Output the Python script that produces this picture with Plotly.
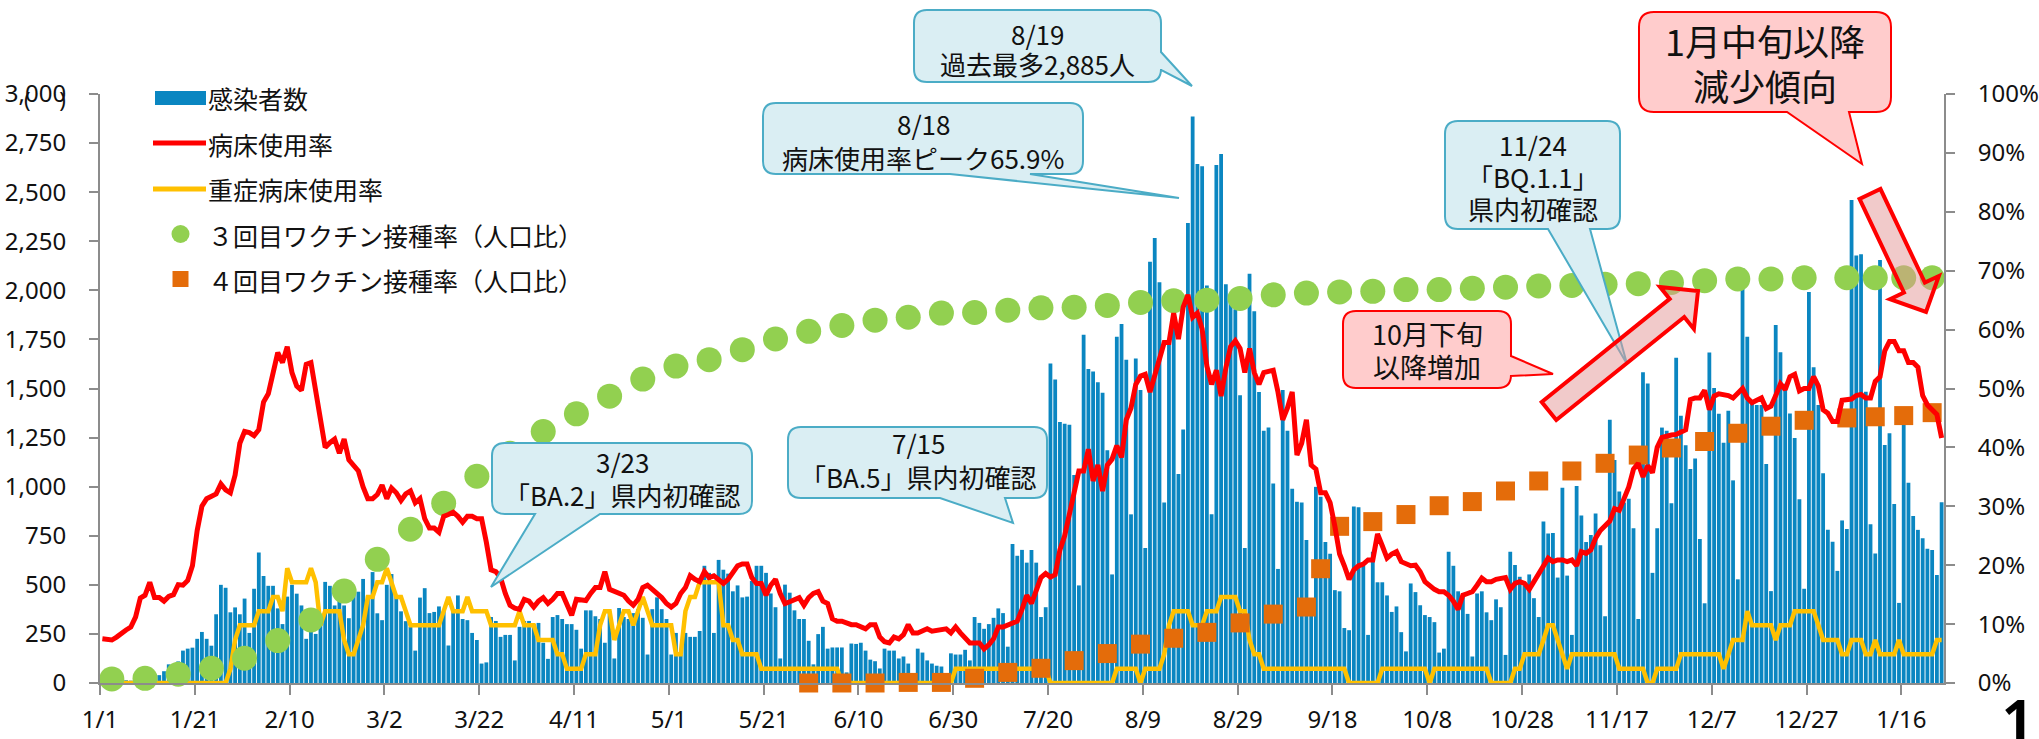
import math
import pandas as pd
import plotly.graph_objects as go

# ---------------- data ----------------
start_date = "2022-01-01"
end_date = "2023-01-24"

cases = [
    4, 3, 6, 8, 10, 14, 12, 20, 26, 30,
    28, 45, 40, 60, 95, 70, 110, 165, 175, 180,
    225, 260, 225, 190, 350, 500, 485, 360, 385, 350,
    430, 255, 480, 665, 545, 495, 495, 380, 300, 440,
    500, 455, 395, 225, 275, 250, 300, 515, 495, 395,
    475, 395, 330, 455, 465, 530, 445, 565, 355, 320,
    500, 555, 445, 365, 315, 285, 165, 435,
    483, 356, 362, 390, 366, 191, 366, 446, 326, 320,
    255, 219, 99, 105, 336, 316, 235, 245, 245, 115,
    286, 316, 316, 300, 306, 205, 123, 336, 346, 326,
    300, 300, 271, 175, 370, 370, 340, 326, 205, 366,
    125, 382, 336, 326, 356, 376, 332, 145, 376, 436,
    376, 326, 145, 255, 145, 255, 235, 235, 265, 597,
    561, 255, 627, 577, 557, 467, 497, 436,
    440, 520, 597, 597, 561, 456, 386, 125, 501, 460,
    370, 326, 326, 215, 95, 249, 286, 175, 181, 181,
    181, 54, 201, 199, 205, 165, 119, 111, 74,
    175, 165, 165, 125, 135, 99, 44, 175, 155, 115,
    99, 88, 84, 34, 151, 145, 145, 169, 115, 336,
    306, 276, 300, 332, 380, 356, 185, 708, 648, 678,
    613, 678, 613, 336, 386, 1627, 1546,
    1330,
    1321, 1315, 1060, 497, 1774, 1599, 1587, 1532, 1478, 1186,
    553, 1764, 1828, 1647, 859, 1653, 1492, 688, 2146, 2266,
    2041, 919, 1744, 1864, 1064, 1291, 2343, 2885, 2644, 2632,
    2025, 859, 2638, 2695, 2031, 1945, 1904, 1466, 688, 2085,
    1894, 1482, 1285, 1301, 1016, 581, 1492, 1285, 989, 923,
    919, 728, 386, 999, 949, 718, 658, 473, 467, 280,
    269, 899, 895, 597, 245, 668, 513, 513, 446, 362, 390,
    259, 161, 507, 463, 396, 346, 336, 310, 155, 175,
    668, 597, 467, 456, 352, 135, 456, 467, 360, 320,
    426, 386, 143, 668, 601, 541, 497, 553, 432, 336,
    822, 762, 764, 537, 995, 547, 245, 1003, 853, 718,
    754, 863, 702, 340, 1341, 1136, 975, 919, 939, 788,
    326, 1583, 1526, 561, 788, 1301, 1285, 915, 1657, 1361,
    1211, 1090, 1144, 734, 406, 1683, 1502, 1371,
    1224, 1387, 1032, 528, 2112, 1764, 1428, 1416, 1416, 1116,
    468, 1824, 1685, 1524, 1373, 1248, 936, 480, 1992, 1608,
    1416, 1068, 780, 720, 571, 828, 785, 2460, 2177, 2184,
    1483, 809, 660, 2155, 1212, 1272, 912, 408,
    1356, 1020, 850, 780, 737, 684, 677, 550, 920,
]

bed_rate = [
    7.5, 7.5, 7.3, 7.8, 8.5, 9.0, 9.5, 11.2, 14.4, 14.9,
    17.1, 14.5, 14.5, 13.9, 14.7, 15.0, 16.7, 16.6, 17.4, 19.9,
    25.9, 30.0, 31.3, 31.6, 32.1, 33.8, 32.8, 32.3, 35.3, 40.7,
    42.7, 42.5, 42.0, 43.0, 47.7, 49.1, 52.4, 56.1, 54.4, 57.1,
    52.7, 50.4, 49.7, 54.1, 54.4, 49.4, 45.0, 40.0, 40.8, 41.4,
    39.0, 41.4, 37.9, 37.0, 36.0, 33.3, 31.3, 31.3, 32.0, 33.6,
    31.3, 33.1, 32.3, 31.0, 32.1, 32.6, 30.6, 31.3,
    27.9, 26.3, 26.3, 25.6, 28.3, 28.6, 29.0, 28.3, 27.3, 28.3,
    28.3, 27.9, 27.9, 23.9, 19.2, 18.9, 17.9, 15.2, 13.2, 12.7,
    12.5, 14.2, 13.9, 12.9, 13.9, 14.5, 13.5, 14.2, 15.2,
    15.2, 13.2, 11.5, 14.2, 14.2, 14.0, 15.2, 16.2, 16.2, 18.9,
    15.9, 15.5, 15.2, 14.9, 13.9, 13.2, 14.2, 16.2, 16.6, 15.9,
    15.2, 14.5, 13.5, 12.9, 13.5, 15.2, 16.2, 18.2, 17.6, 17.2,
    18.9, 17.9, 18.2, 17.6, 16.9, 17.6, 18.6, 19.9, 20.2,
    20.2, 17.9, 16.9, 16.9, 14.9, 16.6, 17.6, 15.2, 13.5, 13.8,
    14.2, 14.5, 13.2, 14.5, 15.2, 15.5, 13.9, 13.5, 10.9, 10.5,
    10.5, 10.2, 9.9, 9.9, 9.5, 9.2, 9.9, 9.9, 7.8, 7.0,
    6.8, 7.8, 7.5, 8.2, 9.9, 8.5, 8.5, 8.8, 9.2, 8.8,
    9.0, 9.0, 9.2, 8.5, 9.5, 8.5, 7.5, 6.8, 6.8, 6.8,
    5.8, 6.5, 7.5, 9.5, 9.5, 9.8, 10.2, 10.5, 12.5, 14.9,
    13.5, 15.5, 17.9, 18.6, 18.0, 18.4, 22.6, 25.0, 29.0,
    32.0, 36.0, 36.0, 39.7, 34.3, 37.0, 32.6, 37.0, 38.0, 40.3,
    38.3, 44.7, 46.7, 50.7, 52.1, 52.4, 49.4, 52.4, 55.4, 57.8,
    57.8, 62.8, 58.4, 63.8, 65.9, 62.1, 62.8, 60.1, 53.8, 50.7,
    53.1, 48.7, 53.5, 57.1, 58.1, 56.8, 52.7, 56.8, 52.7, 50.7,
    52.7, 53.0, 53.1, 49.4, 44.7, 46.7, 49.4, 38.7, 40.7, 44.7,
    37.0, 36.3, 32.3, 32.3, 30.6, 26.6, 21.9, 19.9, 17.6, 19.2,
    19.9, 20.2, 20.9, 20.9, 25.3, 23.3, 21.2, 21.9,
    22.3, 20.6, 20.2, 19.9, 20.0, 18.9, 17.2, 16.5, 15.9, 15.5,
    15.5, 14.9, 13.9, 12.5, 14.9, 15.2, 15.5, 16.6, 17.8, 17.2,
    17.2, 17.6, 17.8, 17.9, 15.9, 16.9, 17.2, 16.9, 15.9, 17.2,
    18.6, 19.6, 21.2, 20.6, 20.9, 20.9, 20.6, 20.9, 19.9, 22.3,
    22.0, 22.6, 24.6, 25.9, 26.6, 27.5, 29.6, 29.3, 31.3, 33.3,
    36.3, 37.3, 35.0, 36.9, 35.7, 40.0, 41.7, 42.0, 42.1, 42.2,
    42.7, 43.0, 48.1, 48.4, 48.4, 49.7, 46.4, 48.7, 49.1,
    49.0, 48.8, 48.4, 49.2, 50.0, 48.4, 47.6, 48.0, 48.4, 46.6,
    47.0, 48.8, 50.8, 49.8, 52.0, 52.4, 49.6, 50.0, 50.0, 52.0,
    50.4, 46.4, 45.8, 44.4, 44.4, 48.0, 48.2, 48.2, 48.8, 49.0,
    48.4, 48.4, 51.2, 52.0, 56.4, 58.0, 58.0, 56.4, 56.4, 54.4,
    54.4, 53.6, 48.8, 47.2, 46.4, 45.6, 41.6,
]

severe_rate = (
    [0.0] * 27
    + [2.4, 7.3, 9.8, 9.8, 9.8, 9.8, 12.2, 12.2, 12.2, 14.6,
       14.6, 12.2, 19.5, 17.1, 17.1, 17.1, 17.1, 19.5, 17.1, 9.8,
       12.2, 12.2, 12.2, 12.2, 7.3, 4.9, 4.9, 7.3, 9.8, 14.6,
       14.6, 17.1, 17.1, 19.5, 17.1, 14.6, 14.6, 12.2, 9.8, 9.8, 9.8]
    + [9.8] * 4
    + [12.2, 14.6, 12.2, 12.2, 12.2, 14.6, 12.2, 12.2, 12.2, 12.2]
    + [9.8] * 6 + [12.2, 9.8, 9.8, 9.8] + [7.3] * 4 + [4.9] * 2 + [2.4] * 4 + [4.9] * 3
    + [9.8, 12.2, 12.2, 7.3, 9.8, 12.2, 12.2, 9.8, 12.2, 14.6, 12.2]
    + [9.8] * 5 + [4.9, 4.9, 12.2, 14.6, 14.6] + [17.1] * 5 + [9.8, 9.8, 7.3, 7.3, 4.9]
    + [4.9] * 3 + [2.4] * 17 + [0.0] * 24 + [2.4] * 20 + [0.0] * 5
    + [0.0] * 9 + [2.4] * 5 + [0.0] + [2.4] * 4 + [4.9, 9.8] + [12.2] * 4 + [9.8] * 3
    + [12.2] * 3 + [14.6] * 4 + [12.2] * 2 + [7.3] + [4.9] * 2 + [2.4] * 18 + [0.0] * 7 + [2.4] * 3
    + [2.4] * 7 + [0.0] + [2.4] * 12 + [0.0] * 5 + [2.4] * 2 + [4.9] * 4 + [7.3] + [9.8] * 2
    + [7.3, 4.9, 2.4] + [4.9] * 10 + [2.4] * 6 + [0.0] * 2 + [2.4] * 5 + [4.9] * 9
    + [2.4, 4.9] + [7.3] * 3 + [12.2] + [9.8] * 5 + [7.3] + [9.8] * 3 + [12.2] * 5 + [9.8]
    + [7.3] * 4 + [4.9] * 2 + [7.3] * 3 + [4.9] * 2 + [7.3] + [4.9] * 4 + [7.3] + [4.9] * 7 + [7.3] * 2
)

vax_weekly_first = "2022-01-03"
vax_weekly_count = 52
vax_extra_dates = ["2023-01-04", "2023-01-10", "2023-01-16", "2023-01-22"]
vax3_rate = [
    0.7, 0.8, 1.5, 2.5, 4.2, 7.2, 10.7, 15.6, 21.0, 26.1,
    30.5, 35.1, 39.0, 42.7, 45.7, 48.7, 51.6, 53.8, 54.9, 56.6,
    58.4, 59.7, 60.7, 61.6, 62.1, 62.8, 62.9, 63.3, 63.7, 63.8,
    64.1, 64.6, 64.9, 65.0, 65.3, 65.9, 66.2, 66.4, 66.5,
    66.8, 66.8, 67.0, 67.2, 67.4, 67.5, 67.7, 67.8, 68.0, 68.3,
    68.6, 68.6, 68.8,
    68.8, 68.8, 68.8, 68.8,
]
vax4_weekly_first = "2022-05-30"
vax4_weekly_count = 31
vax4_mid_dates = ["2022-09-15"]
vax4_rate = [
    0.0, 0.0, 0.0, 0.1, 0.1, 0.8, 1.8, 2.5, 3.8, 5.0,
    6.6, 7.6, 8.6, 10.2, 11.7, 12.9, 19.4, 26.6, 27.4, 28.6,
    30.1, 30.8, 32.6, 34.3, 36.0, 37.3, 38.7, 39.9, 41.0, 42.4,
    43.6, 44.6, 45.0, 45.2, 45.4, 45.9,
]

tick_labels = ["1/1", "1/21", "2/10", "3/2", "3/22", "4/11", "5/1", "5/21", "6/10", "6/30",
               "7/20", "8/9", "8/29", "9/18", "10/8", "10/28", "11/17", "12/7", "12/27", "1/16"]
left_ticks = list(range(0, 3001, 250))
right_ticks = list(range(0, 101, 10))

legend_labels = ["感染者数", "病床使用率", "重症病床使用率",
                 "３回目ワクチン接種率（人口比）", "４回目ワクチン接種率（人口比）"]

# ---------------- build ----------------
days = pd.date_range(start_date, end_date, freq="D")
assert len(cases) == len(days), (len(cases), len(days))
assert len(bed_rate) == len(days), len(bed_rate)
assert len(severe_rate) == len(days), len(severe_rate)
half = pd.Timedelta(hours=12)
xd = days + half

vax_dates = list(pd.date_range(vax_weekly_first, periods=vax_weekly_count, freq="7D")) + \
    [pd.Timestamp(d) for d in vax_extra_dates]
assert len(vax_dates) == len(vax3_rate)
vax4_dates = sorted(list(pd.date_range(vax4_weekly_first, periods=vax4_weekly_count, freq="7D"))
                    + [pd.Timestamp(d) for d in vax4_mid_dates + vax_extra_dates])
assert len(vax4_dates) == len(vax4_rate), (len(vax4_dates), len(vax4_rate))
vx3 = [d + half for d in vax_dates]
vx4 = [d + half for d in vax4_dates]

tickvals = pd.date_range(start_date, periods=len(tick_labels), freq="20D")

W, H = 2039, 739
PL, PR, PT, PB = 100, 1944, 94, 683
PW, PH = PR - PL, PB - PT

BLUE = "#0A86C1"
RED = "#FF0000"
YEL = "#FFC000"
GRN = "#92D050"
ORG = "#E46C0A"
JP = "Noto Sans CJK JP"

fig = go.Figure()
fig.add_trace(go.Bar(x=xd, y=cases, marker=dict(color=BLUE, line=dict(width=0)),
                     name=legend_labels[0], yaxis="y"))
fig.add_trace(go.Scatter(x=xd, y=severe_rate, mode="lines", line=dict(color=YEL, width=4.5),
                         name=legend_labels[2], yaxis="y2"))
fig.add_trace(go.Scatter(x=vx3, y=vax3_rate, mode="markers", cliponaxis=False,
                         marker=dict(color=GRN, size=25, symbol="circle", line=dict(width=0)),
                         name=legend_labels[3], yaxis="y2"))
fig.add_trace(go.Scatter(x=vx4, y=vax4_rate, mode="markers", cliponaxis=False,
                         marker=dict(color=ORG, size=19, symbol="square", line=dict(width=0)),
                         name=legend_labels[4], yaxis="y2"))
fig.add_trace(go.Scatter(x=xd, y=bed_rate, mode="lines", line=dict(color=RED, width=5),
                         name=legend_labels[1], yaxis="y2"))


def pp(x, y):
    return (x - PL) / PW, (PB - y) / PH


def fmt(p):
    a, b = pp(*p)
    return f"{a:.5f},{b:.5f}"


def path_from(cmds):
    s = ""
    for op, pts in cmds:
        s += op + " " + " ".join(fmt(p) for p in pts) + " "
    return s + "Z"


def callout(x0, y0, x1, y1, r, edge, base, tip):
    c = [("M", [(x0 + r, y0)]), ("L", [(x1 - r, y0)]), ("Q", [(x1, y0), (x1, y0 + r)])]
    if edge == "right":
        c += [("L", [(x1, base[0])]), ("L", [tip]), ("L", [(x1, base[1])])]
    c += [("L", [(x1, y1 - r)]), ("Q", [(x1, y1), (x1 - r, y1)])]
    if edge == "bottom":
        c += [("L", [(base[1], y1)]), ("L", [tip]), ("L", [(base[0], y1)])]
    c += [("L", [(x0 + r, y1)]), ("Q", [(x0, y1), (x0, y1 - r)]),
          ("L", [(x0, y0 + r)]), ("Q", [(x0, y0), (x0 + r, y0)])]
    return path_from(c)


def arrow(tail, tip, sw, hw, hl):
    dx, dy = tip[0] - tail[0], tip[1] - tail[1]
    L = math.hypot(dx, dy)
    ux, uy = dx / L, dy / L
    nx, ny = -uy, ux
    hb = (tip[0] - ux * hl, tip[1] - uy * hl)
    pts = [(tail[0] + nx * sw, tail[1] + ny * sw), (hb[0] + nx * sw, hb[1] + ny * sw),
           (hb[0] + nx * hw, hb[1] + ny * hw), tip,
           (hb[0] - nx * hw, hb[1] - ny * hw), (hb[0] - nx * sw, hb[1] - ny * sw),
           (tail[0] - nx * sw, tail[1] - ny * sw)]
    return path_from([("M", [pts[0]])] + [("L", [p]) for p in pts[1:]])


shapes = []
BFILL, BLINE = "#DAEEF3", "#4BACC6"
PFILL, PLINE = "#FFCCCC", "#FF0000"


def add_path(path, fill, line, lw):
    shapes.append(dict(type="path", path=path, xref="paper", yref="paper",
                       fillcolor=fill, line=dict(color=line, width=lw), layer="above"))


add_path(callout(914, 10, 1161, 82, 13, "right", (52, 70), (1192, 86)), BFILL, BLINE, 2)
add_path(callout(763, 103, 1083, 174, 13, "bottom", (950, 1030), (1179, 198)), BFILL, BLINE, 2)
add_path(callout(492, 443, 752, 514, 13, "bottom", (535, 600), (491, 587)), BFILL, BLINE, 2)
add_path(callout(788, 427, 1047, 498, 13, "bottom", (940, 1005), (1013, 523)), BFILL, BLINE, 2)
add_path(callout(1445, 121, 1620, 229, 13, "bottom", (1548, 1590), (1627, 364)), BFILL, BLINE, 2)
add_path(callout(1343, 311, 1511, 388, 13, "right", (356, 376), (1553, 374)), PFILL, PLINE, 2)
add_path(callout(1639, 12, 1891, 112, 15, "bottom", (1787, 1849), (1862, 164)), PFILL, PLINE, 2)

AFILL = "rgba(228,150,150,0.5)"
add_path(arrow((1549, 411), (1698, 291), 11.6, 27, 27), AFILL, PLINE, 4)
add_path(arrow((1870, 194), (1926, 312), 11.6, 27, 27), AFILL, PLINE, 4)


def rect_px(x0, y0, x1, y1, fill, kind="rect"):
    a0, b0 = pp(x0, y0)
    a1, b1 = pp(x1, y1)
    shapes.append(dict(type=kind, xref="paper", yref="paper", x0=a0, x1=a1, y0=b1, y1=b0,
                       fillcolor=fill, line=dict(width=0), layer="above"))


def line_px(x0, x1, y, color, w):
    a0, b = pp(x0, y)
    a1, _ = pp(x1, y)
    shapes.append(dict(type="line", xref="paper", yref="paper", x0=a0, x1=a1, y0=b, y1=b,
                       line=dict(color=color, width=w), layer="above"))


# legend symbols
rect_px(155, 91, 206, 105, BLUE)
line_px(153, 206, 143, RED, 5)
line_px(153, 206, 189, YEL, 5)
rect_px(171.5, 225, 189.5, 243, GRN, "circle")
rect_px(172.5, 271, 188.5, 287, ORG)

annotations = []


def text_px(x, y, s, size, anchor="center", color="#111111", family=JP, bold=False):
    a, b = pp(x, y)
    annotations.append(dict(x=a, y=b, xref="paper", yref="paper", text=(f"<b>{s}</b>" if bold else s),
                            showarrow=False, xanchor=anchor, yanchor="middle",
                            font=dict(family=family, size=size, color=color)))


legend_y = [98, 144, 189, 235, 280]
for lbl, yy in zip(legend_labels, legend_y):
    text_px(206, yy, lbl, 25, "left")

CS = 26
text_px(1037, 33, "8/19", CS)
text_px(1037, 64, "過去最多2,885人", CS)
text_px(923, 123, "8/18", CS)
text_px(923, 157, "病床使用率ピーク65.9%", CS)
text_px(622, 461, "3/23", CS)
text_px(622, 494, "「BA.2」県内初確認", CS)
text_px(918, 443, "7/15", CS)
text_px(918, 476, "「BA.5」県内初確認", CS)
text_px(1533, 144, "11/24", CS)
text_px(1533, 176, "「BQ.1.1」", CS)
text_px(1533, 208, "県内初確認", CS)
text_px(1427, 333, "10月下旬", 27)
text_px(1427, 366, "以降増加", 27)
text_px(1765, 40, "1月中旬以降", 36)
text_px(1765, 85, "減少傾向", 36)
text_px(45, 99, "(     )", 22, family="Noto Sans")
text_px(2017, 718, "1", 54, family="Noto Sans", color="#000000", bold=True)

AX = "#8C8C8C"
TF = dict(family="Noto Sans", size=24, color="#111111")

fig.update_layout(
    width=W, height=H,
    margin=dict(l=PL, r=W - PR, t=PT, b=H - PB, pad=0, autoexpand=False),
    paper_bgcolor="white", plot_bgcolor="white",
    showlegend=False, bargap=0.2,
    shapes=shapes, annotations=annotations,
    xaxis=dict(type="date", range=[start_date, "2023-01-25"], tickvals=tickvals, ticktext=tick_labels,
               showgrid=False, zeroline=False, showline=True, linecolor=AX, linewidth=2,
               ticks="outside", ticklen=10, tickwidth=2, tickcolor=AX, tickfont=TF,
               ticklabelstandoff=4, automargin=False),
    yaxis=dict(range=[0, 3000], tickvals=left_ticks, ticktext=[f"{v:,}" for v in left_ticks],
               showgrid=False, zeroline=False, showline=True, linecolor=AX, linewidth=2,
               ticks="outside", ticklen=9, tickwidth=2, tickcolor=AX, tickfont=TF,
               ticklabelstandoff=18, automargin=False),
    yaxis2=dict(range=[0, 100], tickvals=right_ticks, ticktext=[f"{v}%" for v in right_ticks],
                overlaying="y", side="right", showgrid=False, zeroline=False,
                showline=True, linecolor=AX, linewidth=2,
                ticks="outside", ticklen=9, tickwidth=2, tickcolor=AX, tickfont=TF,
                ticklabelstandoff=18, automargin=False),
)

fig.write_html("out.html", config={"displayModeBar": False},
               post_script="document.body.style.margin='0';document.body.style.overflow='hidden';")
